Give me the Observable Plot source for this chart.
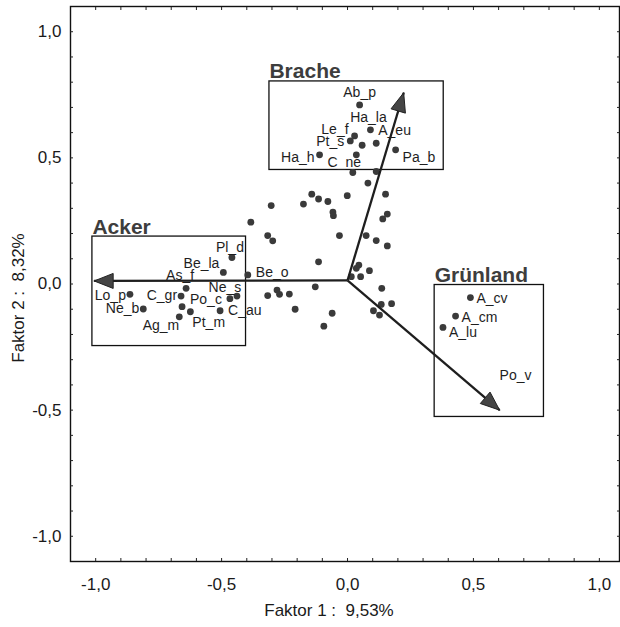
<!DOCTYPE html>
<html>
<head>
<meta charset="utf-8">
<script src="https://cdn.jsdelivr.net/npm/d3@7"></script>
<script src="https://cdn.jsdelivr.net/npm/@observablehq/plot@0.6"></script>
<style>
  body { margin: 0; background: #fff; }
  #chart svg { font-family: "Liberation Sans", Arial, sans-serif; }
</style>
</head>
<body>
<div id="chart"></div>
<script>
// ---- Data ----
const speciesNames = ["Ab_p","Ha_la","Le_f","Pt_s","A_eu","Ha_h","C_ne","Pa_b",
  "Pl_d","Be_la","Be_o","As_f","Ne_s","Po_c","Lo_p","C_gr","Ne_b","Pt_m","Ag_m","C_au",
  "A_cv","A_cm","A_lu","Po_v"];
const speciesX = [0.048,0.091,0.028,0.011,0.114,-0.111,0.035,0.191,
  -0.459,-0.493,-0.396,-0.641,-0.439,-0.467,-0.864,-0.661,-0.811,-0.624,-0.668,-0.506,
  0.488,0.429,0.379,0.592];
const speciesY = [0.710,0.611,0.587,0.567,0.558,0.512,0.512,0.532,
  0.105,0.046,0.036,-0.017,-0.048,-0.058,-0.041,-0.048,-0.099,-0.110,-0.130,-0.106,
  -0.054,-0.127,-0.172,-0.381];
const hiddenDots = ["Po_v"];

const otherX = [0.058,0.021,0.114,0.081,-0.142,-0.115,-0.078,-0.001,0.151,-0.175,-0.303,
  -0.058,-0.056,0.158,0.140,-0.384,-0.317,-0.297,-0.032,0.074,0.114,0.158,-0.115,0.045,
  0.035,0.087,0.015,0.052,-0.128,-0.280,-0.270,-0.231,-0.317,0.136,-0.208,-0.061,0.134,
  0.175,0.103,0.127,-0.094,-0.657];
const otherY = [0.550,0.442,0.446,0.400,0.356,0.337,0.327,0.350,0.356,0.317,0.311,
  0.285,0.271,0.277,0.258,0.245,0.192,0.171,0.192,0.192,0.172,0.151,0.088,0.075,
  0.062,0.053,0.029,0.029,-0.011,-0.024,-0.041,-0.040,-0.046,-0.017,-0.100,-0.116,-0.081,
  -0.078,-0.106,-0.123,-0.167,-0.090];

const groupNames = ["Brache","Acker","Grünland"];
const groupArrowX = [0.223,-1.006,0.604];
const groupArrowY = [0.758,0.012,-0.500];
const arrowOrigin = [0, 0.014];
const boxX1 = [-0.310,-1.013,0.346];
const boxX2 = [0.382,-0.403,0.780];
const boxY1 = [0.452,-0.246,-0.527];
const boxY2 = [0.803,0.188,-0.004];

const majorTicks = [-1.0,-0.5,0.0,0.5,1.0];
const minorTicks = d3.range(-10, 11).map(i => i / 10);
const xTitle = "Faktor 1 :  9,53%";
const yTitle = "Faktor 2 :  8,32%";

// ---- Styling (label placement: anchor, dx, dy in px) ----
const labelStyle = {
  "Ab_p": ["middle",0,-8], "Ha_la": ["middle",-2,-8], "Le_f": ["end",-6,-2],
  "Pt_s": ["end",-6,5], "A_eu": ["start",2,-8], "Ha_h": ["end",-5,7],
  "C_ne": ["middle",-12,12], "Pa_b": ["start",7,12], "Pl_d": ["middle",-2,-6],
  "Be_la": ["end",-4,-4], "Be_o": ["start",8,2], "As_f": ["middle",-6,-8],
  "Ne_s": ["middle",-12,-4], "Po_c": ["end",-8,5], "Lo_p": ["end",-4,6],
  "C_gr": ["end",-4,4], "Ne_b": ["end",-4,4], "Pt_m": ["start",2,15],
  "Ag_m": ["end",0,13], "C_au": ["start",8,4], "A_cv": ["start",6,5],
  "A_cm": ["start",6,6], "A_lu": ["start",6,10], "Po_v": ["start",3,0]
};

const W = 620, H = 627, mL = 70, mR = 1, mT = 6, mB = 66;
const xDomain = [-1.1, 1.08], yDomain = [-1.1, 1.1];
const kx = (W - mL - mR) / (xDomain[1] - xDomain[0]);
const ky = (H - mT - mB) / (yDomain[1] - yDomain[0]);

const species = speciesNames.map((n, i) => ({name: n, x: speciesX[i], y: speciesY[i]}));
const others = otherX.map((x, i) => ({x, y: otherY[i]}));
const dots = species.filter(d => !hiddenDots.includes(d.name)).concat(others);
const arrows = groupNames.map((g, i) => ({g, x1: arrowOrigin[0], y1: arrowOrigin[1], x2: groupArrowX[i], y2: groupArrowY[i]}));
const boxes = groupNames.map((g, i) => ({g, x1: boxX1[i], x2: boxX2[i], y1: boxY1[i], y2: boxY2[i]}));

// arrowhead triangles (pixel-sized, converted to data units)
const headLen = 19, headW = 15;
const heads = [];
arrows.forEach(a => {
  const dxp = (a.x2 - a.x1) * kx, dyp = (a.y2 - a.y1) * ky;
  const L = Math.hypot(dxp, dyp), ux = dxp / L, uy = dyp / L;
  const bx = -ux * headLen, by = -uy * headLen;
  const px = -uy * headW / 2, py = ux * headW / 2;
  const pts = [[0,0],[bx+px, by+py],[bx-px, by-py],[0,0]];
  pts.forEach(([ox, oy]) => heads.push({g: a.g, x: a.x2 + ox / kx, y: a.y2 + oy / ky}));
});

const fmt = d => d.toFixed(1).replace(".", ",");
const font = "Liberation Sans, Arial, sans-serif";

const perLabel = species.map(d => {
  const [anchor, dx, dy] = labelStyle[d.name];
  return Plot.text([d], {x: "x", y: "y", text: "name", textAnchor: anchor,
    lineAnchor: "bottom", dx, dy, fontSize: 14, fill: "#1e1e1e"});
});

const chart = Plot.plot({
  width: W, height: H,
  marginLeft: mL, marginRight: mR, marginTop: mT, marginBottom: mB,
  style: {fontFamily: font, background: "#fff"},
  x: {domain: xDomain},
  y: {domain: yDomain},
  marks: [
    Plot.frame({stroke: "#111", strokeWidth: 1.4}),
    Plot.axisX(minorTicks, {anchor: "bottom", tickSize: -3, tickFormat: () => "", label: null, stroke: "#222"}),
    Plot.axisX(minorTicks, {anchor: "top", tickSize: -3, tickFormat: () => "", label: null, stroke: "#222"}),
    Plot.axisY(minorTicks, {anchor: "left", tickSize: -3, tickFormat: () => "", label: null, stroke: "#222"}),
    Plot.axisY(minorTicks, {anchor: "right", tickSize: -3, tickFormat: () => "", label: null, stroke: "#222"}),
    Plot.axisX(majorTicks, {anchor: "bottom", tickSize: 0, tickPadding: 16, tickFormat: fmt, fontSize: 17, label: null, fill: "#1a1a1a"}),
    Plot.axisY(majorTicks, {anchor: "left", tickSize: 0, tickPadding: 9, tickFormat: fmt, fontSize: 17, label: null, fill: "#1a1a1a"}),
    Plot.text([xTitle], {frameAnchor: "bottom", dy: 49, dx: -16, fontSize: 17, fill: "#1a1a1a", textAnchor: "middle", lineAnchor: "middle"}),
    Plot.text([yTitle], {frameAnchor: "left", dx: -52, dy: 14, rotate: -90, fontSize: 17, fill: "#1a1a1a", textAnchor: "middle", lineAnchor: "middle"}),
    Plot.rect(boxes, {x1: "x1", x2: "x2", y1: "y1", y2: "y2", fill: "none", stroke: "#111", strokeWidth: 1.3}),
    Plot.text(boxes, {x: "x1", y: "y2", text: "g", textAnchor: "start", lineAnchor: "bottom", dy: -3, dx: 0,
      fontSize: 21, fontWeight: "bold", fill: "#3d3d3d"}),
    Plot.dot(dots, {x: "x", y: "y", r: 3.4, fill: "#3a3a3a", stroke: "none"}),
    ...perLabel,
    Plot.link(arrows, {x1: "x1", y1: "y1", x2: "x2", y2: "y2", stroke: "#1e1e1e", strokeWidth: 2.3}),
    Plot.line(heads, {x: "x", y: "y", z: "g", fill: "#454545", stroke: "#222", strokeWidth: 1, curve: "linear"})
  ]
});
document.getElementById("chart").appendChild(chart);
</script>
</body>
</html>
